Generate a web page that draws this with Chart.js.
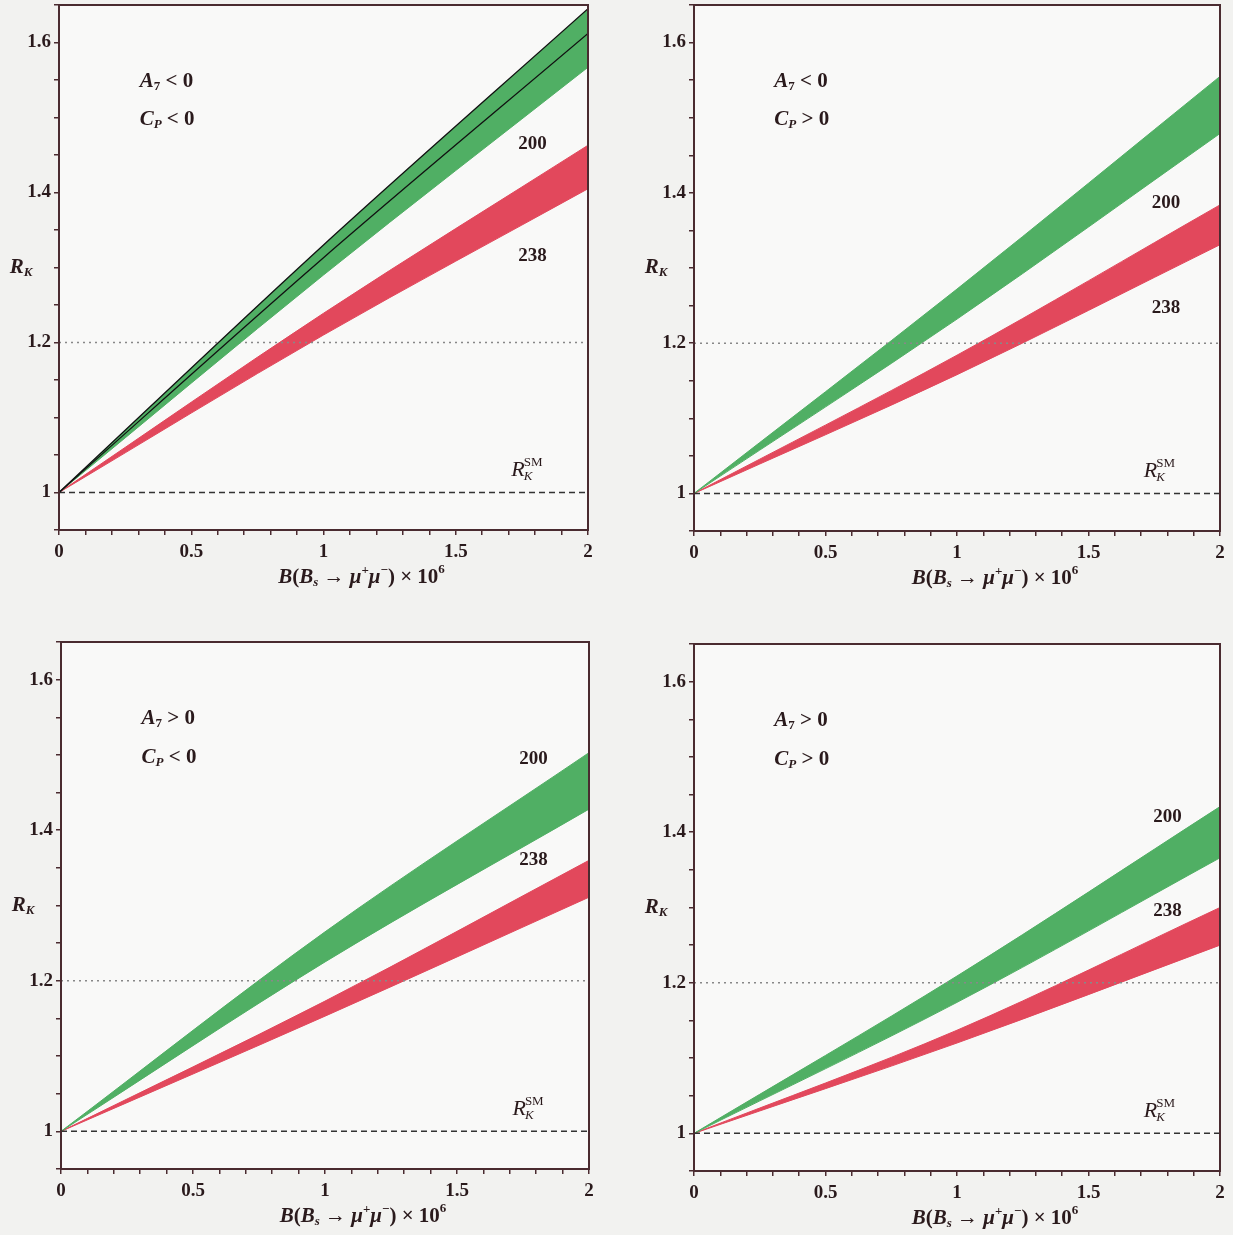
<!DOCTYPE html>
<html>
<head>
<meta charset="utf-8">
<script src="https://cdn.jsdelivr.net/npm/chart.js@4.4.1/dist/chart.umd.min.js"></script>
<style>
  body { margin: 0; background: #f2f2f0; width: 1233px; height: 1235px; position: relative; overflow: hidden; }
  .panel { position: absolute; }
</style>
</head>
<body>
<div class="panel" style="left:0;top:0;width:610px;height:600px"><canvas id="c0"></canvas></div>
<div class="panel" style="left:620px;top:0;width:613px;height:600px"><canvas id="c1"></canvas></div>
<div class="panel" style="left:0;top:620px;width:610px;height:615px"><canvas id="c2"></canvas></div>
<div class="panel" style="left:620px;top:620px;width:613px;height:615px"><canvas id="c3"></canvas></div>
<script>
// x positions where the band edges were read
const xs = [0, 1, 2];

// top-left: A7 < 0, CP < 0
const tlGreenHi = [1, 1.33, 1.645];
const tlGreenMid = [1, 1.313, 1.612];
const tlGreenLo = [1, 1.29, 1.567];
const tlRedHi = [1, 1.239, 1.463];
const tlRedLo = [1, 1.21, 1.405];

// top-right: A7 < 0, CP > 0
const trGreenHi = [1, 1.272, 1.555];
const trGreenLo = [1, 1.232, 1.479];
const trRedHi = [1, 1.184, 1.384];
const trRedLo = [1, 1.158, 1.331];

// bottom-left: A7 > 0, CP < 0
const blGreenHi = [1, 1.265, 1.503];
const blGreenLo = [1, 1.225, 1.428];
const blRedHi = [1, 1.173, 1.36];
const blRedLo = [1, 1.153, 1.311];

// bottom-right: A7 > 0, CP > 0
const brGreenHi = [1, 1.209, 1.434];
const brGreenLo = [1, 1.174, 1.366];
const brRedHi = [1, 1.137, 1.30];
const brRedLo = [1, 1.12, 1.25];

// reference lines
const refX = [0, 2];
const smLine = [1, 1];
const cutLine = [1.2, 1.2];

const bandLabels = ['200', '238'];

const SERIF = '"Liberation Serif", "DejaVu Serif", serif';
const FRAME = '#4a2b30';
const INK = '#2a1a1c';
const GREEN = 'rgb(80,175,100)';
const RED = 'rgb(226,72,92)';

const panels = [
  { id: 'c0', a7: '<', cp: '<', g: [tlGreenLo, tlGreenHi], r: [tlRedLo, tlRedHi], mid: tlGreenMid,
    pad: { top: 5, right: 22 }, yW: 59, xH: 70, lab: [1.465, 1.315], labX: 1.79 },
  { id: 'c1', a7: '<', cp: '>', g: [trGreenLo, trGreenHi], r: [trRedLo, trRedHi],
    pad: { top: 5, right: 13 }, yW: 74, xH: 69, lab: [1.386, 1.247], labX: 1.795 },
  { id: 'c2', a7: '>', cp: '<', g: [blGreenLo, blGreenHi], r: [blRedLo, blRedHi],
    pad: { top: 22, right: 21 }, yW: 61, xH: 66, lab: [1.494, 1.36], labX: 1.79 },
  { id: 'c3', a7: '>', cp: '>', g: [brGreenLo, brGreenHi], r: [brRedLo, brRedHi],
    pad: { top: 24, right: 13 }, yW: 74, xH: 64, lab: [1.42, 1.295], labX: 1.8 }
];

const pts = (xv, yv) => xv.map((x, i) => ({ x: x, y: yv[i] }));

function rich(ctx, parts, x, y, align) {
  let w = 0;
  parts.forEach(p => { ctx.font = p.f; p.w = ctx.measureText(p.t).width; w += p.w; });
  let cx = align === 'center' ? x - w / 2 : x;
  ctx.textAlign = 'left';
  ctx.textBaseline = 'middle';
  parts.forEach(p => { ctx.font = p.f; ctx.fillText(p.t, cx, y + (p.dy || 0)); cx += p.w; });
}

const big = 'bold 21px ' + SERIF, bigI = 'italic bold 21px ' + SERIF;
const sm = 'bold 13px ' + SERIF, smI = 'italic bold 13px ' + SERIF;

const decor = {
  id: 'decor',
  beforeDraw(chart) {
    const { ctx, chartArea: a } = chart;
    ctx.save();
    ctx.fillStyle = '#f9f9f8';
    ctx.fillRect(a.left, a.top, a.right - a.left, a.bottom - a.top);
    ctx.restore();
  },
  afterDraw(chart, args, opts) {
    const { ctx, chartArea: a, scales } = chart;
    const sx = scales.x, sy = scales.y;
    ctx.save();
    ctx.strokeStyle = FRAME;
    ctx.lineWidth = 2;
    ctx.strokeRect(a.left, a.top, a.right - a.left, a.bottom - a.top);
    ctx.fillStyle = INK;

    // sign labels
    const lx = sx.getPixelForValue(0.305);
    rich(ctx, [{ t: 'A', f: bigI }, { t: '7', f: sm, dy: 5 }, { t: ' ' + opts.a7 + ' 0', f: big }], lx, sy.getPixelForValue(1.548));
    rich(ctx, [{ t: 'C', f: bigI }, { t: 'P', f: smI, dy: 5 }, { t: ' ' + opts.cp + ' 0', f: big }], lx, sy.getPixelForValue(1.497));

    // band labels
    ctx.font = 'bold 19px ' + SERIF;
    ctx.textAlign = 'center';
    ctx.textBaseline = 'middle';
    bandLabels.forEach((t, i) => ctx.fillText(t, sx.getPixelForValue(opts.labX), sy.getPixelForValue(opts.lab[i])));

    // R_K^SM
    const rx = sx.getPixelForValue(1.71), ry = sy.getPixelForValue(1.03);
    ctx.font = 'italic 22px ' + SERIF;
    ctx.textAlign = 'left';
    ctx.fillText('R', rx, ry);
    const rw = ctx.measureText('R').width;
    ctx.font = '13px ' + SERIF;
    ctx.fillText('SM', rx + rw - 1, ry - 7);
    ctx.font = 'italic 13px ' + SERIF;
    ctx.fillText('K', rx + rw - 1, ry + 7);

    // axis titles
    rich(ctx, [{ t: 'R', f: bigI }, { t: 'K', f: smI, dy: 5 }], a.left - 38, sy.getPixelForValue(1.3), 'center');
    const t = 'bold 21px ' + SERIF, ti = 'italic bold 21px ' + SERIF;
    rich(ctx, [
      { t: 'B', f: ti }, { t: '(', f: t }, { t: 'B', f: ti }, { t: 's', f: smI, dy: 5 },
      { t: ' \u2192 ', f: t }, { t: '\u03bc', f: ti }, { t: '+', f: sm, dy: -7 },
      { t: '\u03bc', f: ti }, { t: '\u2212', f: sm, dy: -7 }, { t: ') \u00d7 10', f: t }, { t: '6', f: sm, dy: -8 }
    ], (a.left + a.right) / 2 + 38, a.bottom + 48, 'center');
    ctx.restore();
  }
};

panels.forEach(p => {
  const band = (vals, color, fill, edge) => ({
    data: pts(xs, vals),
    borderColor: edge || color,
    borderWidth: edge ? 1.3 : 1,
    backgroundColor: color,
    fill: fill,
    pointRadius: 0,
    cubicInterpolationMode: 'monotone',
    order: edge ? 0 : 2
  });
  const datasets = [
    band(p.g[0], GREEN, false),
    band(p.g[1], GREEN, '-1', p.mid ? '#111' : null),
    band(p.r[0], RED, false),
    band(p.r[1], RED, '-1')
  ];
  datasets.push({ data: pts(refX, smLine), borderColor: '#333', borderWidth: 1.5, borderDash: [6, 4], pointRadius: 0, fill: false, order: 1 });
  datasets.push({ data: pts(refX, cutLine), borderColor: '#888', borderWidth: 1.5, borderDash: [2, 4], pointRadius: 0, fill: false, order: 1 });
  if (p.mid) {
    datasets.push({ data: pts(xs, p.mid), borderColor: '#111', borderWidth: 1.3, pointRadius: 0, fill: false, cubicInterpolationMode: 'monotone', order: -1 });
  }

  new Chart(document.getElementById(p.id), {
    type: 'line',
    data: { datasets: datasets },
    options: {
      responsive: true,
      maintainAspectRatio: false,
      animation: false,
      layout: { padding: { top: p.pad.top, right: p.pad.right, left: 0, bottom: 0 } },
      plugins: { legend: { display: false }, tooltip: { enabled: false }, decor: { a7: p.a7, cp: p.cp, lab: p.lab, labX: p.labX } },
      scales: {
        x: {
          type: 'linear', min: 0, max: 2,
          afterFit: s => { s.height = p.xH; },
          border: { display: true, color: FRAME, width: 2 },
          grid: { drawOnChartArea: false, tickLength: 5, tickColor: FRAME, lineWidth: 1.5 },
          ticks: {
            stepSize: 0.1, autoSkip: false, maxRotation: 0, padding: 6, color: INK,
            font: { family: SERIF, size: 19, weight: 'bold' },
            callback: v => Math.abs(v * 2 - Math.round(v * 2)) < 1e-6 ? String(+v.toFixed(1)) : ''
          }
        },
        y: {
          min: 0.95, max: 1.65,
          afterFit: s => { s.width = p.yW; s.paddingTop = 0; s.paddingBottom = 0; },
          border: { display: true, color: FRAME, width: 2 },
          grid: { drawOnChartArea: false, tickLength: 5, tickColor: FRAME, lineWidth: 1.5 },
          ticks: {
            stepSize: 0.05, autoSkip: false, padding: 3, color: INK,
            font: { family: SERIF, size: 19, weight: 'bold' },
            callback: v => Math.abs(v * 5 - Math.round(v * 5)) < 1e-6 ? String(+v.toFixed(1)) : ''
          }
        }
      }
    },
    plugins: [decor]
  });
});
</script>
</body>
</html>
